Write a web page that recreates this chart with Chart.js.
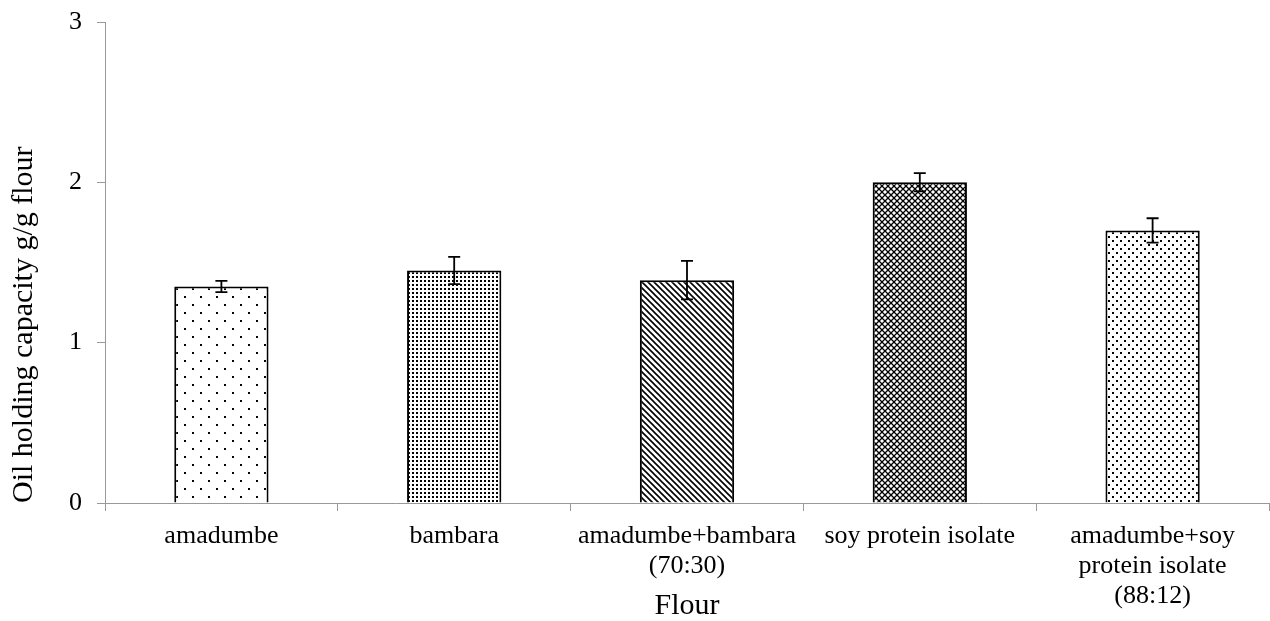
<!DOCTYPE html>
<html>
<head>
<meta charset="utf-8">
<script src="https://cdn.jsdelivr.net/npm/chart.js@4"></script>
<style>
  html, body { margin: 0; padding: 0; background: #fff; }
  #wrap { width: 1270px; height: 621px; }
</style>
</head>
<body>
<div id="wrap"><canvas id="barChart" width="1270" height="621"></canvas></div>
<script>
const kategorie = [
    'amadumbe',
    'bambara',
    ['amadumbe+bambara', '(70:30)'],
    'soy protein isolate',
    ['amadumbe+soy', 'protein isolate', '(88:12)']
];
const wartosci = [1.35, 1.45, 1.39, 2.0, 1.70];
const bledy = [0.035, 0.085, 0.12, 0.057, 0.076];
const tickiY = [0, 1, 2, 3];

// wzorki wypelnienia slupkow
function wzorek(size, rysuj) {
    const c = document.createElement('canvas');
    c.width = size; c.height = size;
    const g = c.getContext('2d');
    g.fillStyle = '#fff';
    g.fillRect(0, 0, size, size);
    g.fillStyle = '#000';
    g.strokeStyle = '#000';
    rysuj(g, size);
    return document.getElementById('barChart').getContext('2d').createPattern(c, 'repeat');
}

const kropkiRzadkie = wzorek(16, (g) => {
    g.fillRect(0, 0, 2, 2);
    g.fillRect(8, 8, 2, 2);
});
const kropkiGeste = wzorek(4, (g) => {
    g.fillRect(0, 0, 2, 2);
});
const ukosne = wzorek(6, (g, s) => {
    g.lineWidth = 1.6;
    g.beginPath();
    g.moveTo(-1, -1); g.lineTo(s + 1, s + 1);
    g.moveTo(-1, s - 1); g.lineTo(1, s + 1);
    g.moveTo(s - 1, -1); g.lineTo(s + 1, 1);
    g.stroke();
});
const krata = wzorek(6, (g, s) => {
    g.lineWidth = 1.3;
    g.beginPath();
    g.moveTo(0, 0); g.lineTo(s, s);
    g.moveTo(s, 0); g.lineTo(0, s);
    g.stroke();
});
const kropkiSrednie = wzorek(8, (g) => {
    g.fillRect(0, 0, 2, 2);
    g.fillRect(4, 4, 2, 2);
});

const slupkiBledow = {
    id: 'slupkiBledow',
    afterDatasetsDraw(chart) {
        const ctx = chart.ctx;
        const y = chart.scales.y;
        const meta = chart.getDatasetMeta(0);
        ctx.save();
        ctx.strokeStyle = '#000';
        ctx.lineWidth = 1.8;
        meta.data.forEach((bar, i) => {
            const x = bar.x;
            const gora = y.getPixelForValue(wartosci[i] + bledy[i]);
            const dol = y.getPixelForValue(wartosci[i] - bledy[i]);
            ctx.beginPath();
            ctx.moveTo(x, gora); ctx.lineTo(x, dol);
            ctx.moveTo(x - 6, gora); ctx.lineTo(x + 6, gora);
            ctx.moveTo(x - 6, dol); ctx.lineTo(x + 6, dol);
            ctx.stroke();
        });
        ctx.restore();
    }
};

const czcionka = 'Liberation Serif';

new Chart(document.getElementById('barChart'), {
    type: 'bar',
    data: {
        labels: kategorie,
        datasets: [{
            data: wartosci,
            backgroundColor: [kropkiRzadkie, kropkiGeste, ukosne, krata, kropkiSrednie],
            borderColor: '#000',
            borderWidth: 2,
            barPercentage: 0.405,
            categoryPercentage: 1
        }]
    },
    options: {
        responsive: false,
        animation: false,
        layout: { padding: { top: 22, right: 1, left: 0, bottom: 0 } },
        plugins: { legend: { display: false }, tooltip: { enabled: false } },
        scales: {
            x: {
                afterFit(s) { s.height = 118; s.paddingLeft = 0; s.paddingRight = 0; },
                grid: { drawOnChartArea: false, tickLength: 8, color: '#999' },
                border: { color: '#999' },
                ticks: {
                    color: '#000',
                    padding: 10,
                    maxRotation: 0,
                    autoSkip: false,
                    font: { family: czcionka, size: 26, lineHeight: 1.15 }
                },
                title: {
                    display: true,
                    text: 'Flour',
                    color: '#000',
                    padding: 0,
                    font: { family: czcionka, size: 30, lineHeight: 1 }
                }
            },
            y: {
                min: 0,
                max: 3,
                afterFit(s) { s.width = 105; s.paddingTop = 0; s.paddingBottom = 0; },
                afterBuildTicks(s) { s.ticks = tickiY.map(v => ({ value: v })); },
                grid: { drawOnChartArea: false, tickLength: 8, color: '#999' },
                border: { color: '#999' },
                ticks: {
                    color: '#000',
                    padding: 15,
                    font: { family: czcionka, size: 26 }
                },
                title: {
                    display: true,
                    text: 'Oil holding capacity g/g flour',
                    align: 'start',
                    color: '#000',
                    padding: { top: 9, bottom: 0 },
                    font: { family: czcionka, size: 30, lineHeight: 1 }
                }
            }
        }
    },
    plugins: [slupkiBledow]
});
</script>
</body>
</html>
